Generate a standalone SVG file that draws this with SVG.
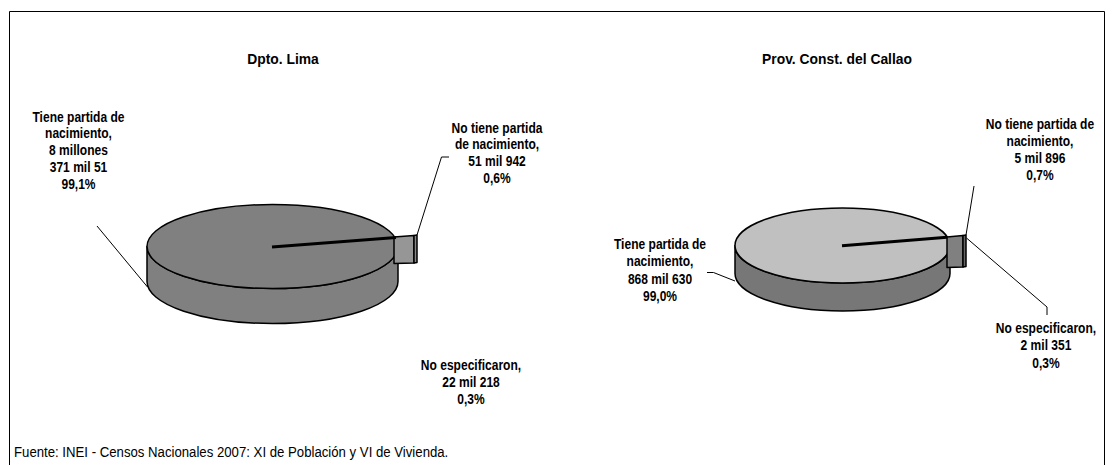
<svg xmlns="http://www.w3.org/2000/svg" width="1114" height="465" viewBox="0 0 1114 465">
<style>
text{font-family:'Liberation Sans',Arial,sans-serif;fill:#000}
.t{font-size:15px;font-weight:bold;text-anchor:middle}
.l{font-size:14px;font-weight:bold;text-anchor:middle}
.f{font-size:15px}
.edge{stroke:#000;stroke-width:1.5;stroke-linejoin:round}
.lead{fill:none;stroke:#000;stroke-width:1}
</style>
<rect width="1114" height="465" fill="#fff"/>
<path d="M9.5,470 V11.5 H1104.5 V470" fill="none" stroke="#000" stroke-width="1"/>

<g id="pie-lima">
  <path class="edge" fill="#808080" d="M147,246.5 V281.5 A125.5,42 0 0 0 398,281.5 V246.5 A125.5,42 0 0 1 147,246.5 Z"/>
  <ellipse class="edge" cx="272.5" cy="246.5" rx="125.5" ry="42" fill="#808080"/>
  <path class="edge" fill="#969696" d="M394,237 L414,235.5 L414,263 L394,263.5 Z"/>
  <path class="edge" fill="#8a8a8a" d="M414,235.5 L417,235 L417,262.5 L414,263 Z"/>
  <line x1="272" y1="247" x2="396" y2="237.5" stroke="#000" stroke-width="3"/>
</g>

<g id="pie-callao">
  <path class="edge" fill="#777777" d="M735,245.5 V273.5 A107.5,37.5 0 0 0 950,273.5 V245.5 A107.5,37.5 0 0 1 735,245.5 Z"/>
  <ellipse class="edge" cx="842.5" cy="245.5" rx="107.5" ry="37.5" fill="#c0c0c0"/>
  <path class="edge" fill="#808080" d="M947,237 L963,235.5 L963,267 L947,267.5 Z"/>
  <path class="edge" fill="#666666" d="M963,235.5 L966,235 L966,266.5 L963,267 Z"/>
  <line x1="842" y1="245.7" x2="947" y2="237.2" stroke="#000" stroke-width="3"/>
</g>

<g id="connectors">
  <polyline class="lead" points="97,226 147.5,287"/>
  <polyline class="lead" points="417,235 441.5,157 449,157"/>
  <polyline class="lead" points="966,235 974,186"/>
  <polyline class="lead" points="966.5,238 1047,307 1047,315"/>
  <polyline class="lead" points="735,281 713.5,272.5 707,272.5"/>
</g>

<g id="titles">
  <text class="t" transform="translate(283,64) scale(0.925,1)">Dpto. Lima</text>
  <text class="t" transform="translate(837,64) scale(0.925,1)">Prov. Const. del Callao</text>
</g>

<g id="label-lima-tiene">
  <text class="l" transform="translate(78.5,121.5) scale(0.86,1)"><tspan x="0">Tiene partida de</tspan><tspan x="0" dy="17">nacimiento,</tspan><tspan x="0" dy="17">8 millones</tspan><tspan x="0" dy="17">371 mil 51</tspan><tspan x="0" dy="17">99,1%</tspan></text>
</g>
<g id="label-lima-notiene">
  <text class="l" transform="translate(497,132.5) scale(0.86,1)"><tspan x="0">No tiene partida</tspan><tspan x="0" dy="17">de nacimiento,</tspan><tspan x="0" dy="17">51 mil 942</tspan><tspan x="0" dy="17">0,6%</tspan></text>
</g>
<g id="label-lima-noesp">
  <text class="l" transform="translate(471,370) scale(0.86,1)"><tspan x="0">No especificaron,</tspan><tspan x="0" dy="17">22 mil 218</tspan><tspan x="0" dy="17">0,3%</tspan></text>
</g>
<g id="label-callao-notiene">
  <text class="l" transform="translate(1040,129) scale(0.86,1)"><tspan x="0">No tiene partida de</tspan><tspan x="0" dy="17">nacimiento,</tspan><tspan x="0" dy="17">5 mil 896</tspan><tspan x="0" dy="17">0,7%</tspan></text>
</g>
<g id="label-callao-tiene">
  <text class="l" transform="translate(660,249) scale(0.86,1)"><tspan x="0">Tiene partida de</tspan><tspan x="0" dy="17.5">nacimiento,</tspan><tspan x="0" dy="17.5">868 mil 630</tspan><tspan x="0" dy="17.5">99,0%</tspan></text>
</g>
<g id="label-callao-noesp">
  <text class="l" transform="translate(1046,333) scale(0.86,1)"><tspan x="0">No especificaron,</tspan><tspan x="0" dy="17.5">2 mil 351</tspan><tspan x="0" dy="17.5">0,3%</tspan></text>
</g>

<g id="footer">
  <text class="f" transform="translate(14,457) scale(0.88,1)">Fuente: INEI - Censos Nacionales 2007: XI de Población y VI de Vivienda.</text>
</g>
</svg>
